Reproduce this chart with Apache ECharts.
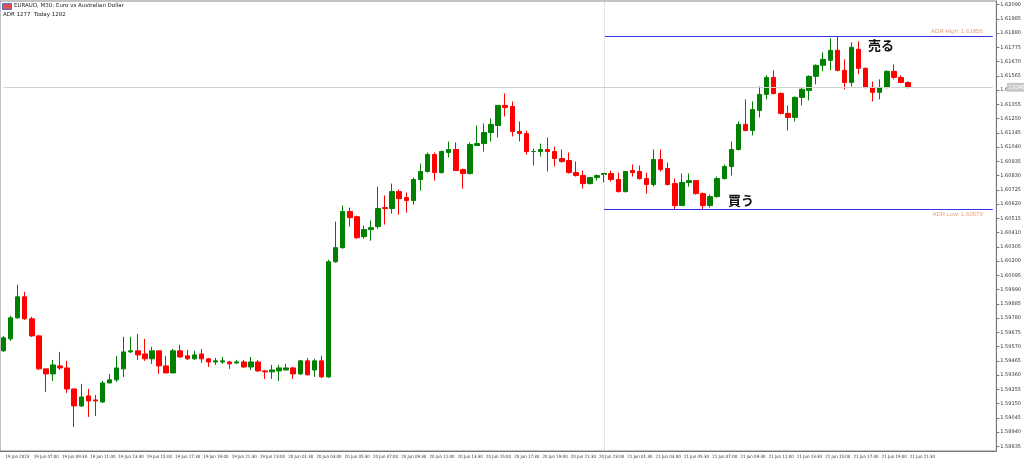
<!DOCTYPE html>
<html><head><meta charset="utf-8">
<script src="https://cdn.jsdelivr.net/npm/echarts@6/dist/echarts.min.js"></script>
<style>html,body{margin:0;padding:0;background:#fff}#c{width:1024px;height:469px}</style>
</head><body><div id="c"></div>
<script>
const timeLabels=['19 Jun 2023','19 Jun 07:00','19 Jun 09:30','19 Jun 11:00','19 Jun 13:30','19 Jun 15:00','19 Jun 17:30','19 Jun 19:00','19 Jun 21:30','19 Jun 23:00','20 Jun 01:30','20 Jun 03:00','20 Jun 05:30','20 Jun 07:00','20 Jun 09:30','20 Jun 11:00','20 Jun 13:30','20 Jun 15:00','20 Jun 17:30','20 Jun 19:00','20 Jun 21:30','20 Jun 23:00','21 Jun 01:30','21 Jun 03:00','21 Jun 05:30','21 Jun 07:00','21 Jun 09:30','21 Jun 11:00','21 Jun 13:30','21 Jun 15:00','21 Jun 17:30','21 Jun 19:00','21 Jun 21:30'];
const opens=[1.59539,1.59627,1.59782,1.59937,1.59775,1.59649,1.59406,1.59369,1.59428,1.59413,1.59258,1.59133,1.59207,1.59177,1.59162,1.59302,1.59325,1.59406,1.59531,1.59539,1.59516,1.59480,1.59539,1.59428,1.59376,1.59539,1.59502,1.59480,1.59516,1.59480,1.59457,1.59457,1.59457,1.59450,1.59457,1.59420,1.59457,1.59391,1.59384,1.59391,1.59398,1.59413,1.59369,1.59465,1.59398,1.59465,1.59347,1.60195,1.60299,1.60565,1.60527,1.60380,1.60432,1.60454,1.60594,1.60587,1.60712,1.60668,1.60646,1.60801,1.60860,1.60985,1.60852,1.61000,1.61022,1.60874,1.60845,1.61052,1.61066,1.61147,1.61199,1.61347,1.61339,1.61155,1.61140,1.61007,1.61007,1.61022,1.61007,1.60956,1.60941,1.60852,1.60830,1.60771,1.60815,1.60838,1.60845,1.60801,1.60712,1.60867,1.60860,1.60808,1.60764,1.60948,1.60882,1.60771,1.60609,1.60779,1.60793,1.60697,1.60609,1.60675,1.60808,1.60897,1.61022,1.61207,1.61162,1.61310,1.61428,1.61553,1.61435,1.61288,1.61258,1.61406,1.61457,1.61561,1.61642,1.61679,1.61753,1.61605,1.61516,1.61760,1.61620,1.61480,1.61443,1.61480,1.61598,1.61553,1.61516];
const closes=[1.59635,1.59782,1.59937,1.59775,1.59649,1.59406,1.59369,1.59435,1.59413,1.59258,1.59133,1.59199,1.59170,1.59170,1.59302,1.59325,1.59413,1.59531,1.59539,1.59509,1.59480,1.59539,1.59428,1.59376,1.59539,1.59494,1.59480,1.59509,1.59480,1.59457,1.59465,1.59465,1.59443,1.59457,1.59420,1.59457,1.59391,1.59384,1.59398,1.59413,1.59413,1.59369,1.59465,1.59362,1.59465,1.59347,1.60195,1.60299,1.60565,1.60520,1.60372,1.60432,1.60446,1.60587,1.60587,1.60712,1.60660,1.60646,1.60801,1.60860,1.60985,1.60852,1.61007,1.61022,1.60867,1.60845,1.61059,1.61066,1.61147,1.61207,1.61347,1.61332,1.61155,1.61140,1.61007,1.61007,1.61022,1.61007,1.60956,1.60933,1.60852,1.60830,1.60771,1.60815,1.60830,1.60845,1.60801,1.60712,1.60860,1.60852,1.60808,1.60764,1.60948,1.60874,1.60764,1.60609,1.60779,1.60793,1.60697,1.60609,1.60675,1.60808,1.60897,1.61022,1.61207,1.61162,1.61317,1.61428,1.61553,1.61435,1.61288,1.61258,1.61406,1.61465,1.61561,1.61642,1.61686,1.61753,1.61605,1.61516,1.61775,1.61620,1.61480,1.61443,1.61480,1.61598,1.61553,1.61516,1.61480];
const lows=[1.59531,1.59612,1.59775,1.59767,1.59642,1.59398,1.59236,1.59317,1.59398,1.59229,1.58978,1.59125,1.59052,1.59059,1.59155,1.59302,1.59310,1.59347,1.59524,1.59472,1.59465,1.59443,1.59369,1.59376,1.59376,1.59487,1.59472,1.59472,1.59450,1.59420,1.59435,1.59443,1.59406,1.59443,1.59413,1.59398,1.59384,1.59332,1.59332,1.59317,1.59398,1.59332,1.59362,1.59362,1.59347,1.59339,1.59339,1.60188,1.60291,1.60454,1.60365,1.60365,1.60350,1.60439,1.60469,1.60550,1.60542,1.60557,1.60616,1.60719,1.60852,1.60793,1.60845,1.60963,1.60867,1.60734,1.60838,1.61052,1.61007,1.61081,1.61111,1.61266,1.61118,1.61081,1.60985,1.60904,1.60970,1.60860,1.60897,1.60926,1.60845,1.60823,1.60734,1.60764,1.60793,1.60779,1.60786,1.60705,1.60705,1.60823,1.60801,1.60697,1.60749,1.60860,1.60756,1.60579,1.60609,1.60749,1.60690,1.60579,1.60594,1.60668,1.60801,1.60830,1.61015,1.61155,1.61125,1.61258,1.61391,1.61428,1.61280,1.61162,1.61229,1.61347,1.61384,1.61502,1.61598,1.61605,1.61598,1.61465,1.61487,1.61576,1.61472,1.61376,1.61391,1.61472,1.61539,1.61509,1.61472];
const highs=[1.59649,1.59797,1.60026,1.59974,1.59790,1.59657,1.59406,1.59472,1.59531,1.59465,1.59258,1.59295,1.59258,1.59214,1.59317,1.59369,1.59502,1.59642,1.59642,1.59664,1.59627,1.59568,1.59539,1.59502,1.59553,1.59583,1.59546,1.59539,1.59553,1.59487,1.59487,1.59494,1.59465,1.59472,1.59472,1.59494,1.59472,1.59398,1.59435,1.59435,1.59443,1.59420,1.59472,1.59487,1.59480,1.59502,1.60210,1.60491,1.60609,1.60594,1.60535,1.60461,1.60498,1.60749,1.60683,1.60771,1.60727,1.60705,1.60815,1.60919,1.61000,1.61000,1.61015,1.61081,1.61074,1.60882,1.61074,1.61199,1.61214,1.61251,1.61347,1.61435,1.61376,1.61229,1.61162,1.61029,1.61066,1.61111,1.61044,1.61022,1.61000,1.60933,1.60867,1.60815,1.60838,1.60845,1.60867,1.60852,1.60860,1.60911,1.60904,1.60852,1.61022,1.61022,1.60926,1.60808,1.60845,1.60845,1.60793,1.60705,1.60690,1.60823,1.60911,1.61081,1.61229,1.61391,1.61376,1.61487,1.61568,1.61605,1.61443,1.61347,1.61413,1.61480,1.61568,1.61649,1.61738,1.61841,1.61856,1.61686,1.61812,1.61819,1.61627,1.61524,1.61539,1.61605,1.61649,1.61568,1.61524];
const priceTicks=[1.58835,1.58940,1.59045,1.59150,1.59255,1.59360,1.59465,1.59570,1.59675,1.59780,1.59885,1.59990,1.60095,1.60200,1.60305,1.60410,1.60515,1.60620,1.60725,1.60830,1.60935,1.61040,1.61145,1.61250,1.61355,1.61460,1.61565,1.61670,1.61775,1.61880,1.61985,1.62090];
const adrHigh=1.61856, adrLow=1.60579, adrStartIndex=85, totalSlots=141;

const cats=[];
for(let i=0;i<totalSlots;i++){cats.push(i%4===0&&timeLabels[i/4]?timeLabels[i/4]:'');}
const ohlc=opens.map((o,i)=>[o,closes[i],lows[i],highs[i]]);
const lastClose=closes[closes.length-1];

const chart=echarts.init(document.getElementById('c'));
chart.setOption({
  animation:false,
  backgroundColor:'#fff',
  grid:{left:-2,right:21,top:1,bottom:18,show:true,borderColor:'#888',borderWidth:1},
  xAxis:{type:'category',data:cats,boundaryGap:true,
    axisLine:{lineStyle:{color:'#777'}},
    axisTick:{interval:3,length:3,lineStyle:{color:'#777'}},
    axisLabel:{interval:3,showMinLabel:true,hideOverlap:false,fontSize:4.4,color:'#333',align:'left',margin:4,padding:[0,0,0,2],fontFamily:'DejaVu Sans Condensed'},
    splitLine:{show:false}},
  yAxis:{type:'value',position:'right',min:1.58801,max:1.62116,scale:true,
    axisLine:{show:true,lineStyle:{color:'#777'}},
    axisTick:{show:true,length:3,customValues:priceTicks,lineStyle:{color:'#777'}},
    axisLabel:{fontSize:5,color:'#333',margin:4,customValues:priceTicks,formatter:v=>v.toFixed(5),fontFamily:'DejaVu Sans'},
    splitLine:{show:false}},
  series:[{type:'candlestick',data:ohlc,barWidth:5,
    itemStyle:{color:'#008000',color0:'#ff0000',borderColor:'#008000',borderColor0:'#ff0000',borderWidth:1},
    markLine:{silent:true,symbol:'none',animation:false,
      data:[
        [{coord:[0,lastClose],lineStyle:{color:'#d0d0d0',width:1,type:'solid'},label:{show:true,position:'end',formatter:lastClose.toFixed(5),backgroundColor:'#c8c8c8',color:'#fff',fontSize:5,padding:[2,2],distance:14}},{coord:[totalSlots-1,lastClose]}],
        [{coord:[adrStartIndex,adrHigh],lineStyle:{color:'#3333ee',width:1.2,type:'solid'},label:{show:true,position:'insideEndTop',formatter:'ADR High: '+adrHigh.toFixed(5),color:'#e8a27a',fontSize:6,distance:[10,2]}},{coord:[totalSlots-1,adrHigh]}],
        [{coord:[adrStartIndex,adrLow],lineStyle:{color:'#3333ee',width:1.2,type:'solid'},label:{show:true,position:'insideEndBottom',formatter:'ADR Low: '+adrLow.toFixed(5),color:'#e8a27a',fontSize:6,distance:[10,2]}},{coord:[totalSlots-1,adrLow]}],
        {xAxis:adrStartIndex,lineStyle:{color:'#ccc',width:1,type:'dotted'},label:{show:false}}
      ]}
  }],
  graphic:[
    {type:'rect',left:2,top:3,shape:{width:9,height:6},style:{fill:'#e05050',stroke:'#5070d0',lineWidth:1}},
    {type:'text',left:14,top:3,style:{text:'EURAUD, M30: Euro vs Australian Dollar',fontSize:5.5,fill:'#222',fontFamily:'DejaVu Sans'}},
    {type:'text',left:3,top:12,style:{text:'ADR 1277  Today 1282',fontSize:5.5,fill:'#222',fontFamily:'DejaVu Sans'}},
    {type:'text',left:868,top:39,style:{text:'売る',fontSize:13,fill:'#111',fontFamily:'Noto Sans CJK JP',fontWeight:'bold'}},
    {type:'text',left:728,top:194,style:{text:'買う',fontSize:13,fill:'#111',fontFamily:'Noto Sans CJK JP',fontWeight:'bold'}}
  ]
});
</script></body></html>
